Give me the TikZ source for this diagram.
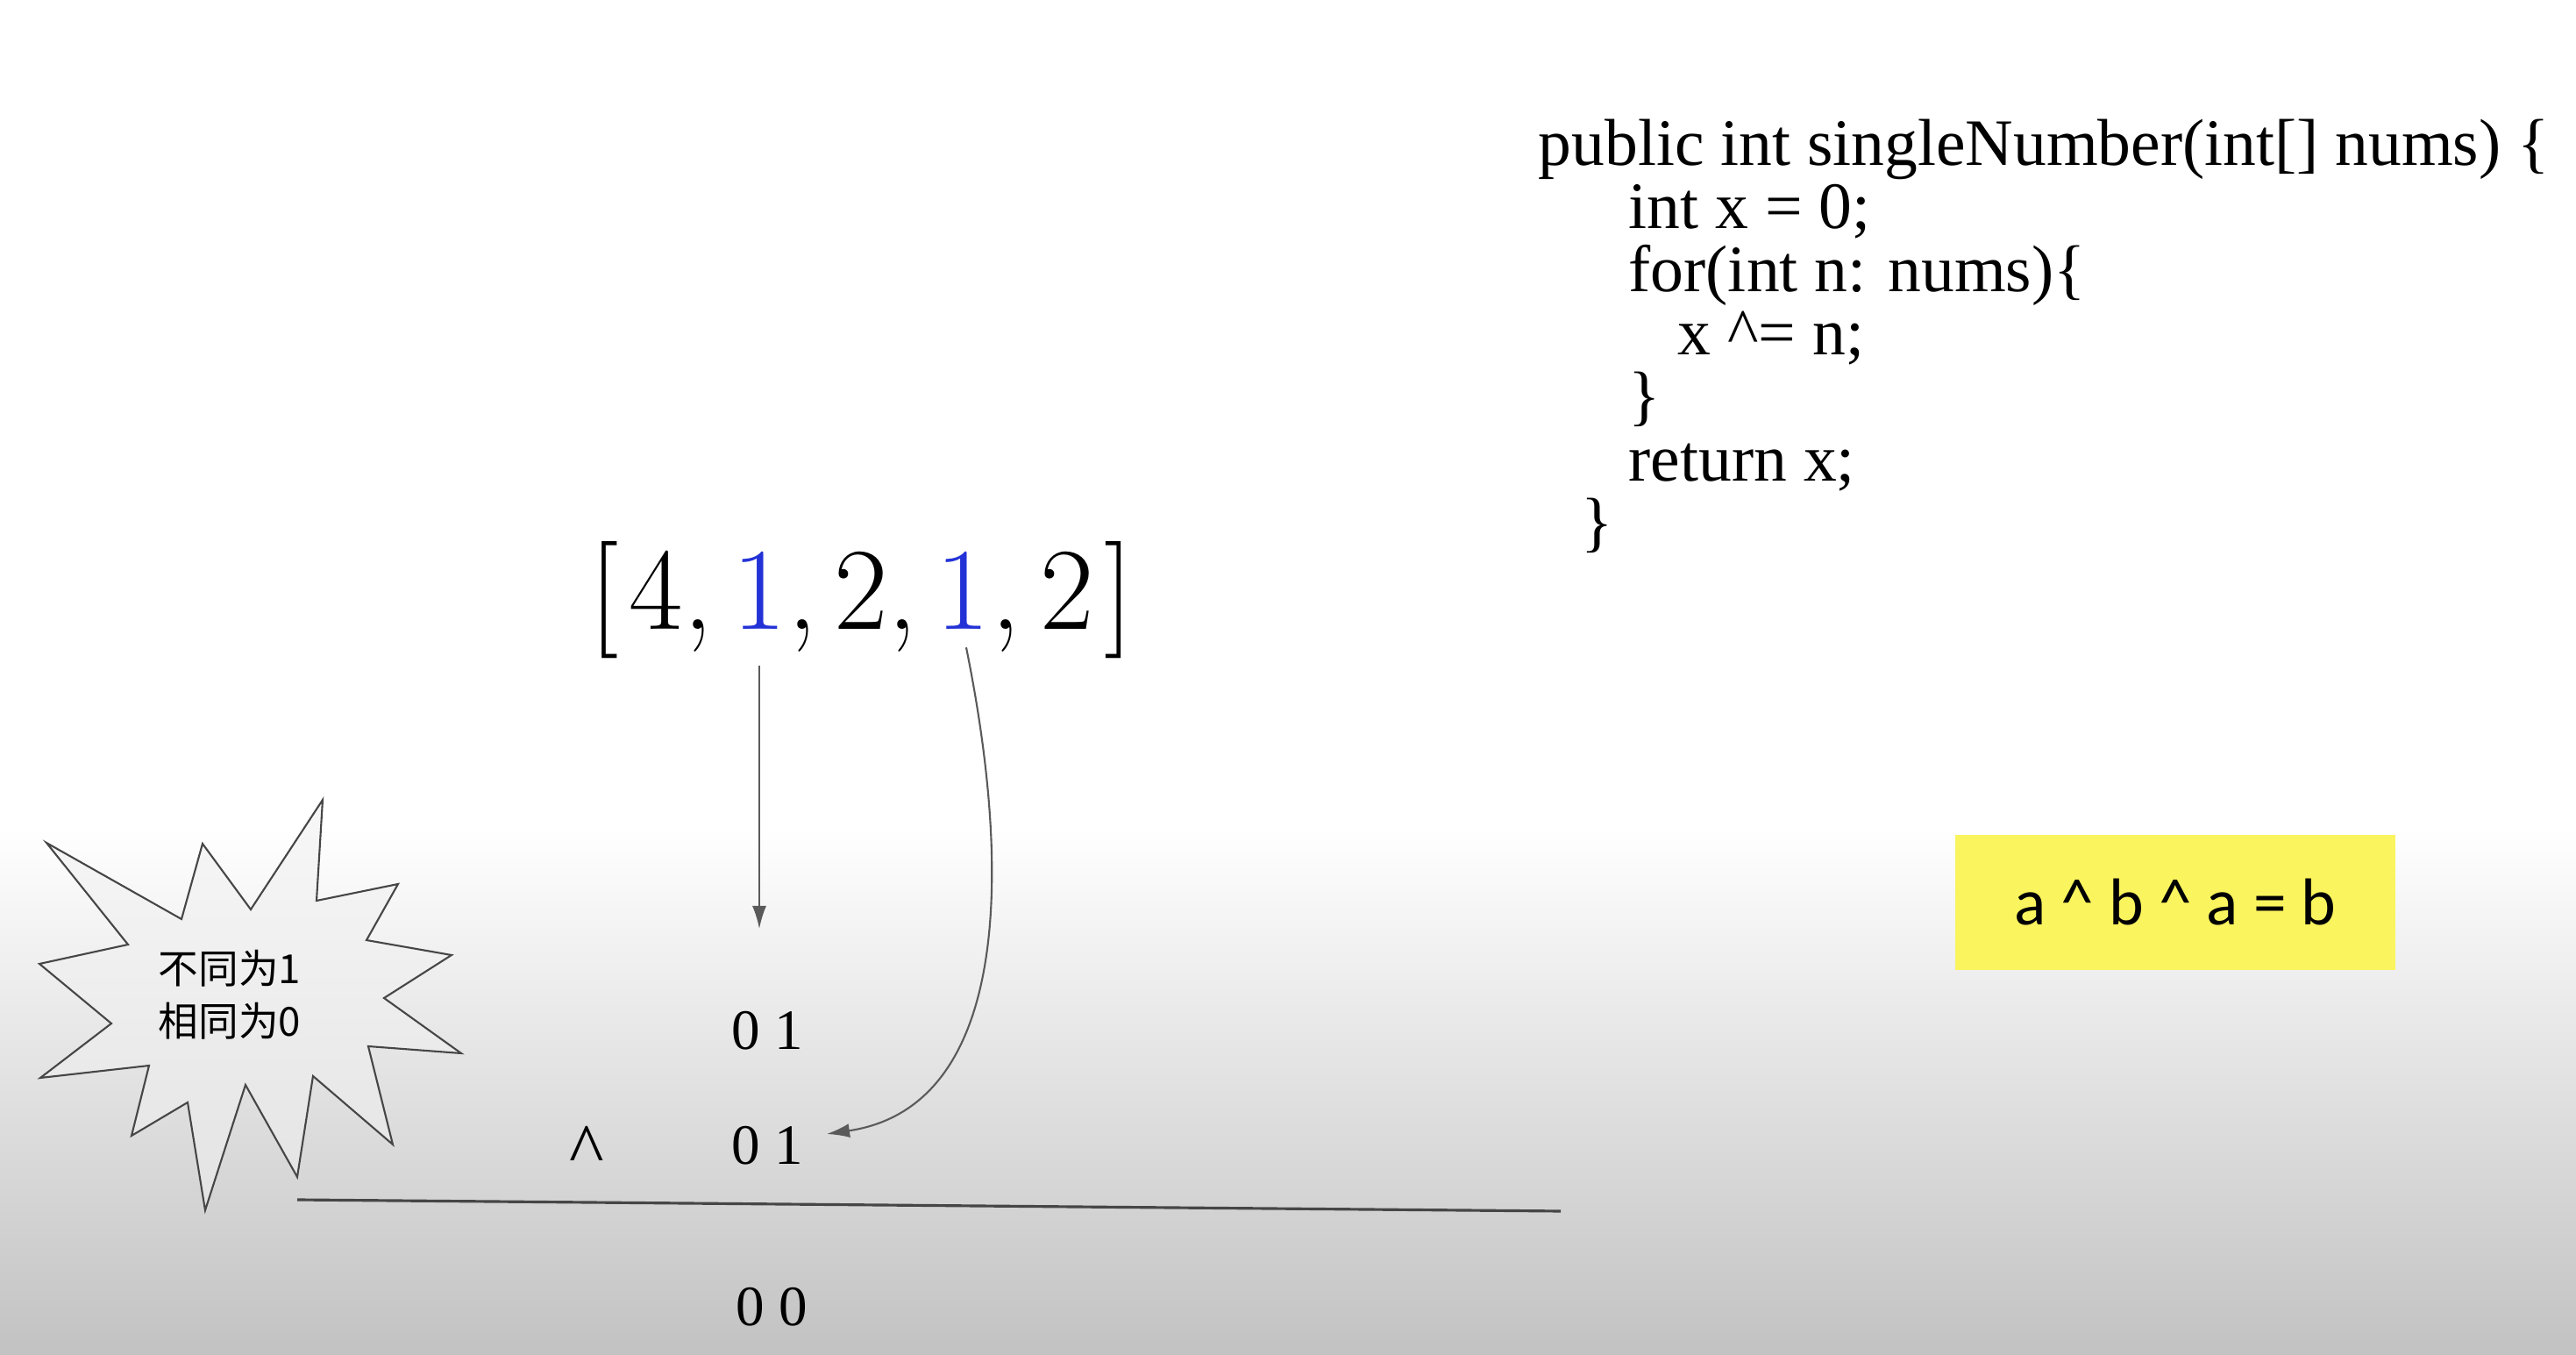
\documentclass[tikz,border=0pt]{standalone}
\usepackage{fontspec}
\newfontfamily\codefont{Liberation Serif}
\newfontfamily\cjkfont{Noto Sans CJK SC}
\newfontfamily\boxfont{Carlito}
\usetikzlibrary{arrows.meta,positioning}
\definecolor{numblue}{RGB}{35,50,215}
\definecolor{linegray}{RGB}{90,90,90}
\definecolor{rulegray}{RGB}{70,70,70}
\definecolor{boxyellow}{RGB}{250,244,94}
\definecolor{bgbottom}{RGB}{194,194,194}

\begin{document}
\begin{tikzpicture}[
  code/.style={font=\codefont\fontsize{21.5}{20.5}\selectfont,anchor=base west,inner sep=0pt},
  arr/.style={font=\fontsize{38}{40}\selectfont,anchor=base west,inner sep=0pt},
  bits/.style={font=\codefont\fontsize{18.5}{20}\selectfont,inner sep=0pt},
  link/.style={draw=linegray,line width=.6pt,-{Latex[length=2.6mm,width=1.6mm]}}]
\useasboundingbox (0,0) rectangle (29.38,15.44);
\fill[white] (0,0) rectangle (29.38,15.44);
\shade[top color=white,bottom color=bgbottom] (0,0) rectangle (29.38,6);
% code
\foreach \x/\txt [count=\i] in {17.54/{public int singleNumber(int[] nums) \{},18.57/{int x = 0;},18.57/{for(int n: nums)\{},19.13/{x \textasciicircum= n;},18.57/{\}},18.57/{return x;},18.03/{\}}}
  \node[code] (c\i) at (\x,{13.55-0.72*(\i-1)}) {\txt};
% array
\node[arr] (a0) at (6.72,8.26) {[\hspace{1.2mm}4,};
\node[arr,anchor=base] (a1) at (8.66,8.26) {\color{numblue}1};
\node[arr,right=0pt of a1.base east,anchor=base west] (a2) {,\hspace{2mm}2,};
\node[arr,anchor=base] (a3) at (10.98,8.26) {\color{numblue}1};
\node[arr,right=0pt of a3.base east,anchor=base west] (a4) {,\hspace{2.3mm}2\hspace{1.2mm}]};
% bits
\node[bits] (r1) at (8.75,3.69) {0 1};
\node[bits] (r2) at (8.75,2.38) {0 1};
\node[bits] (r3) at (8.80,0.54) {0 0};
\node[bits,font=\codefont\fontsize{24}{24}\selectfont,anchor=base] (xor) at (6.69,2.04) {\textasciicircum};
\coordinate (t1) at (8.66,4.85);
\coordinate (t2) at (9.43,2.51);
\draw[link,shorten <=4mm] (a1.south)--(t1);
\draw[link,shorten <=2mm] (a3.south) .. controls (11.6,5.2) and (11.4,2.8) .. (t2);
\coordinate (ruleL) at (3.39,1.76);
\coordinate (ruleR) at (17.80,1.63);
\draw[rulegray,line width=.9pt] (ruleL)--(ruleR);
% burst
\draw[draw=rulegray,line width=.6pt,top color=gray!6,bottom color=gray!22] (0.53,5.83)--(2.07,4.96)--(2.31,5.82)--(2.86,5.07)--(3.68,6.32)--(3.61,5.17)--(4.54,5.36)--(4.18,4.72)--(5.15,4.55)--(4.38,4.06)--(5.26,3.43)--(4.20,3.51)--(4.48,2.39)--(3.57,3.17)--(3.39,2.02)--(2.80,3.07)--(2.34,1.64)--(2.14,2.87)--(1.50,2.49)--(1.70,3.29)--(0.46,3.15)--(1.27,3.77)--(0.45,4.45)--(1.46,4.67)--cycle;
\node[align=left,font=\cjkfont\fontsize{13}{17}\selectfont] (note) at (2.62,4.10) {不同为1\\相同为0};
% yellow box
\node[fill=boxyellow,minimum width=5.02cm,minimum height=1.54cm,font=\boxfont\fontsize{21.5}{24}\selectfont] (law) at (24.81,5.15) {a \textasciicircum{} b \textasciicircum{} a = b};
\end{tikzpicture}
\end{document}
